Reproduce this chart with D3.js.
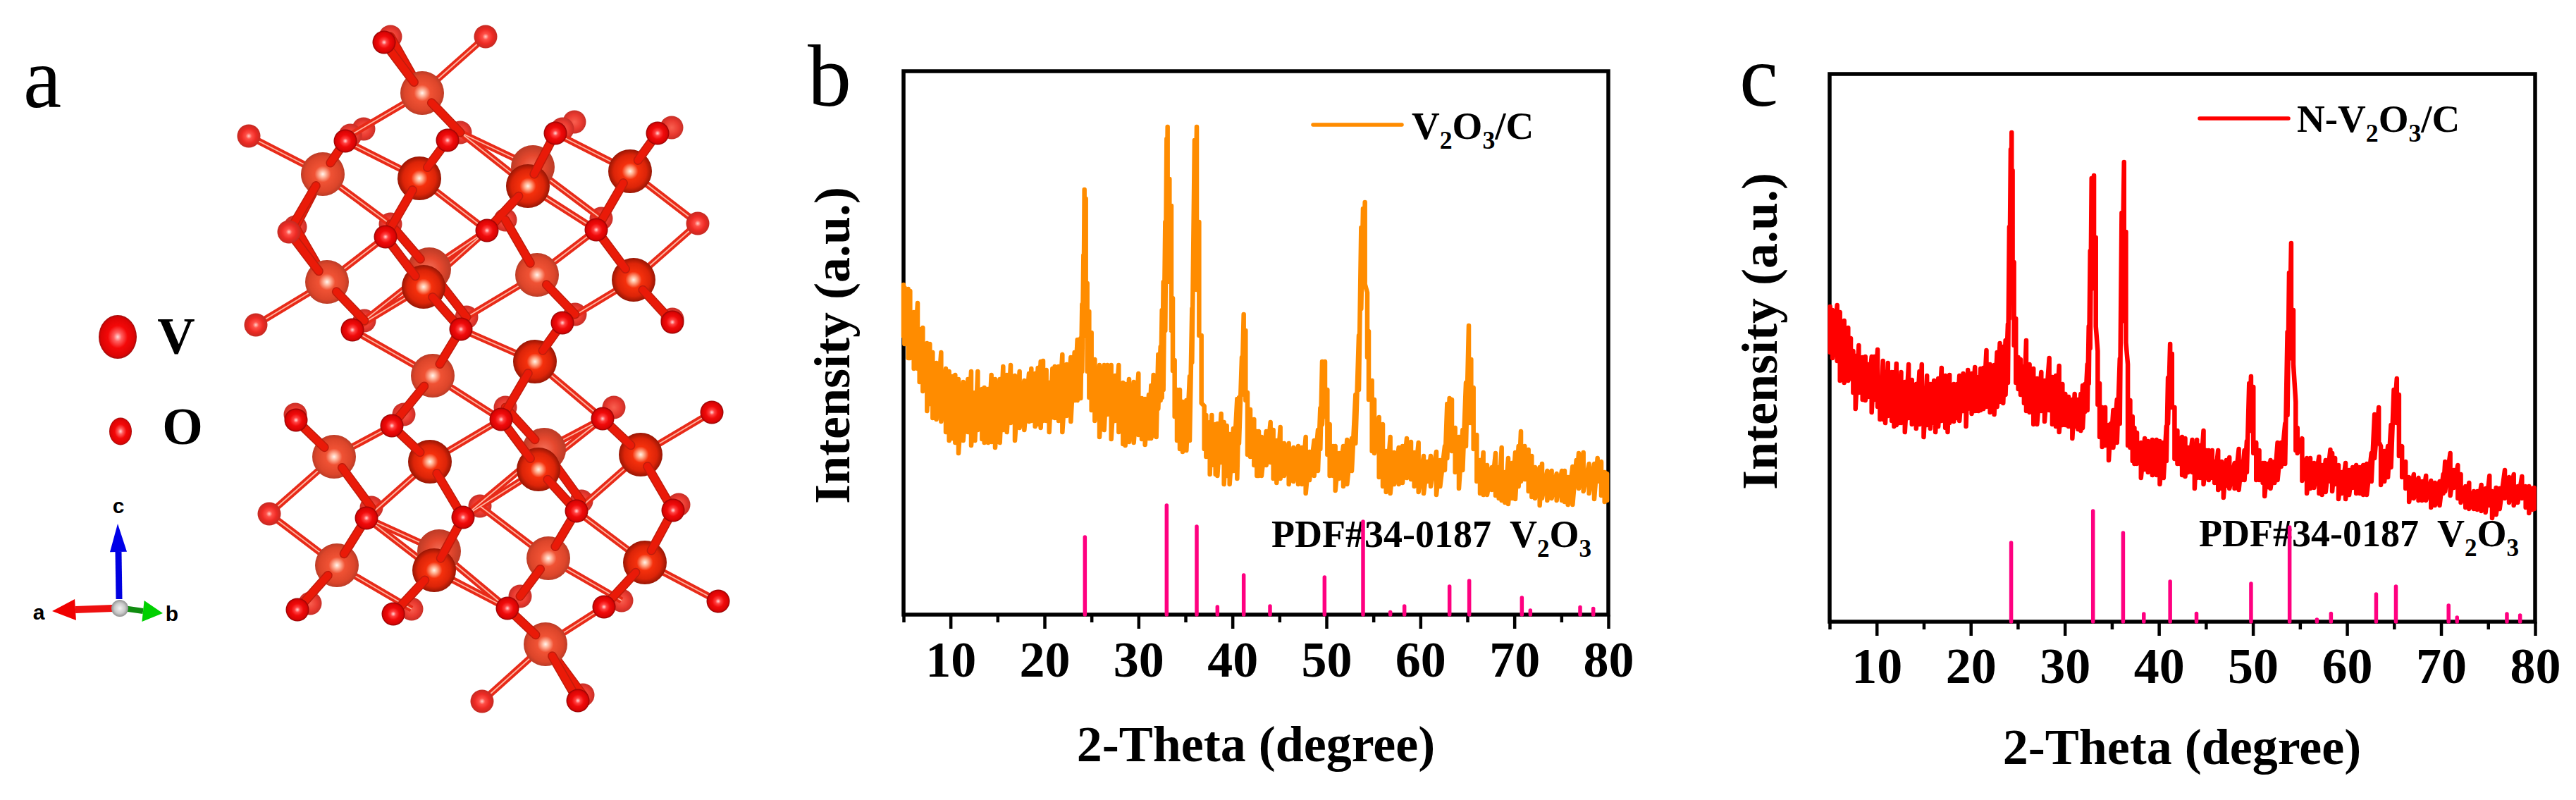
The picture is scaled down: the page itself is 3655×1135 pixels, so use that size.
<!DOCTYPE html>
<html>
<head>
<meta charset="utf-8">
<title>V2O3 structure and XRD</title>
<script src="https://d3js.org/d3.v7.min.js"></script>
<style>
body { margin: 0; background: #fff; }
svg { display: block; }
text { font-family: "Liberation Serif", "Times New Roman", serif; fill: #000; }
.bold { font-weight: bold; }
.triad { font-family: "Liberation Sans", Arial, sans-serif; font-weight: bold; font-size: 30px; text-anchor: middle; }
</style>
</head>
<body>
<div id="fig"></div>
<script>
// XRD reading rows: [2-theta, top of the noise band, bottom of the noise band]
var scanB = [
[5.0,468,395],[5.1,464,384],[5.5,462,364],[5.7,459,364],[6.1,429,349],[6.5,442,349],[6.7,405,330],[7.05,407,317],[7.5,385,289],[7.8,384,299],
[8.1,372,279],[8.5,357,277],[9.0,372,274],[9.5,349,259],[9.85,345,247],[10.2,338,250],[10.5,340,244],[10.85,334,229],[11.35,330,247],[11.85,334,259],
[12.2,345,240],[12.6,315,247],[12.9,345,262],[13.35,320,249],[13.6,322,244],[14.0,320,244],[14.35,340,245],[14.75,334,237],[15.25,334,244],[15.6,352,262],
[16.0,340,259],[16.4,354,272],[16.85,339,247],[17.35,345,265],[17.85,332,262],[18.35,342,274],[18.6,349,275],[19.0,342,267],[19.3,350,270],[19.6,359,265],
[19.85,360,275],[20.2,347,275],[20.5,329,259],[20.85,349,280],[21.1,352,279],[21.5,352,275],[21.9,369,259],[22.35,355,282],[22.8,365,274],[23.2,372,304],
[23.5,390,304],[23.85,392,307],[24.0,440,345],[24.15,510,400],[24.25,603,420],[24.4,590,395],[24.55,470,345],[24.75,430,308],[25.0,400,290],[25.35,362,275],
[25.85,354,252],[26.35,354,262],[26.7,354,284],[27.1,354,249],[27.5,339,275],[27.9,354,259],[28.35,329,242],[28.6,327,240],[29.0,334,245],[29.5,330,244],
[30.0,342,255],[30.35,307,249],[30.7,306,241],[31.1,312,250],[31.35,325,250],[31.6,340,254],[31.9,335,252],[32.1,369,292],[32.35,380,304],[32.5,432,308],
[32.65,472,319],[32.85,557,403],[33.0,675,534],[33.1,692,549],[33.3,618,472],[33.5,580,403],[33.65,449,346],[33.85,361,281],[34.1,319,247],[34.4,319,235],
[34.7,302,231],[35.1,304,233],[35.45,338,247],[35.7,434,358],[35.97,673,499],[36.2,692,461],[36.45,557,396],[36.7,396,300],[37.0,296,235],[37.2,283,224],
[37.6,273,199],[37.8,283,212],[38.2,270,199],[38.4,271,197],[38.8,285,216],[39.1,273,185],[39.4,268,197],[39.7,256,185],[40.1,264,204],[40.5,306,193],
[40.7,308,243],[41.0,365,312],[41.2,426,319],[41.4,403,304],[41.6,315,227],[41.9,291,224],[42.3,277,212],[42.6,260,197],[42.8,260,197],[43.1,252,197],
[43.6,260,212],[44.05,273,216],[44.35,262,193],[44.7,247,187],[45.1,266,193],[45.5,243,197],[46.0,243,185],[46.5,237,189],[47.0,239,185],[47.4,237,185],
[47.8,252,172],[48.2,231,191],[48.7,247,197],[49.1,262,204],[49.35,293,235],[49.55,359,270],[49.85,359,281],[50.1,319,227],[50.35,270,197],[50.7,239,197],
[50.95,239,176],[51.35,229,193],[51.8,239,182],[52.2,248,185],[52.7,250,204],[53.1,312,243],[53.45,396,319],[53.7,549,434],[53.9,576,465],[54.1,585,469],
[54.35,457,365],[54.5,402,305],[54.85,332,232],[55.1,305,229],[55.6,280,195],[56.0,270,182],[56.35,232,174],[56.8,252,172],[57.2,230,185],[57.7,237,185],
[58.1,239,187],[58.55,250,194],[59.0,245,192],[59.35,230,182],[59.8,244,174],[60.35,225,172],[60.75,217,189],[61.1,225,182],[61.7,231,170],[62.1,219,182],
[62.6,239,205],[62.85,299,222],[63.1,307,245],[63.35,305,232],[63.7,265,202],[64.1,252,179],[64.5,262,205],[64.85,329,239],[65.15,410,272],[65.4,362,272],
[65.65,322,235],[66.0,255,189],[66.35,219,172],[66.7,230,170],[67.1,212,170],[67.6,209,177],[68.0,229,169],[68.35,209,165],[68.65,237,162],[69.0,202,159],
[69.35,222,157],[69.75,215,165],[70.1,230,164],[70.45,239,182],[70.7,260,189],[71.1,239,192],[71.5,234,175],[71.85,225,167],[72.2,209,165],[72.7,209,155],
[72.95,214,165],[73.5,204,162],[73.97,204,165],[74.5,200,162],[75.05,204,162],[75.35,204,160],[75.7,195,156],[76.2,210,156],[76.6,219,182],[76.85,229,179],
[77.35,230,175],[77.95,214,172],[78.5,214,164],[78.85,222,189],[79.25,217,169],[79.6,202,160],[79.85,200,162]
];
var scanC = [
[5.05,447,382],[5.3,442,374],[5.8,449,370],[6.1,439,342],[6.55,427,339],[6.97,417,342],[7.25,402,345],[7.5,384,325],[7.75,377,302],[8.1,392,325],
[8.5,375,315],[8.8,376,314],[9.1,365,319],[9.47,376,297],[9.75,376,315],[10.1,386,305],[10.35,334,287],[10.67,370,287],[10.92,354,282],[11.2,367,292],
[11.6,354,285],[11.85,354,277],[12.1,366,279],[12.35,339,282],[12.6,354,282],[13.0,340,269],[13.4,365,289],[13.75,343,280],[14.2,337,274],[14.55,355,280],
[14.8,365,282],[15.0,329,262],[15.35,349,279],[15.7,337,274],[16.1,342,282],[16.25,337,269],[16.55,345,277],[16.9,360,285],[17.3,349,275],[17.55,339,269],
[17.75,350,282],[18.2,337,284],[18.55,337,289],[18.8,349,285],[19.2,352,299],[19.5,347,277],[19.7,357,302],[20.1,352,295],[20.45,361,299],[20.8,347,299],
[21.05,359,300],[21.35,360,302],[21.67,385,305],[22.05,365,297],[22.5,364,294],[22.8,382,305],[23.1,395,312],[23.45,390,310],[23.7,399,322],[23.95,422,339],
[24.1,560,430],[24.25,670,470],[24.35,694,500],[24.45,640,470],[24.6,510,392],[24.8,430,339],[25.05,375,330],[25.3,372,322],[25.67,362,310],[25.9,399,299],
[26.25,365,297],[26.67,359,280],[27.05,345,280],[27.5,354,299],[27.85,342,284],[28.35,374,300],[28.67,347,280],[29.05,349,277],[29.4,363,269],[29.75,337,279],
[30.05,323,279],[30.4,319,277],[30.8,315,260],[31.05,323,277],[31.4,315,273],[31.7,323,271],[31.9,335,275],[32.15,337,298],[32.4,365,300],[32.55,419,338],
[32.7,526,388],[32.85,629,472],[33.1,633,476],[33.3,545,419],[33.5,384,308],[33.7,338,262],[33.97,304,248],[34.3,304,250],[34.67,279,229],[34.9,281,247],
[35.15,300,247],[35.55,315,254],[35.85,373,281],[36.05,580,426],[36.3,652,465],[36.5,553,396],[36.7,365,250],[36.95,314,247],[37.2,291,228],[37.4,275,224],
[37.67,268,224],[38.1,254,204],[38.5,260,216],[38.85,256,212],[39.3,258,208],[39.75,258,208],[40.1,256,195],[40.5,254,204],[40.8,277,228],[40.97,346,281],
[41.2,394,304],[41.4,380,304],[41.67,304,231],[41.97,271,224],[42.2,260,224],[42.47,262,208],[42.8,260,206],[43.1,247,212],[43.55,258,212],[43.8,235,189],
[44.05,258,204],[44.4,250,204],[44.75,271,195],[45.05,243,204],[45.3,243,201],[45.67,243,204],[45.92,227,197],[46.3,243,187],[46.67,227,189],[46.87,224,176],
[47.17,229,193],[47.5,233,189],[48.05,225,189],[48.5,245,187],[48.8,227,201],[49.1,243,201],[49.35,256,212],[49.6,338,270],[49.8,348,281],[50.05,333,239],
[50.35,254,201],[50.67,243,201],[51.05,225,197],[51.25,225,178],[51.55,224,191],[51.87,229,189],[52.3,227,197],[52.62,254,201],[53.0,254,220],[53.42,281,224],
[53.67,411,293],[53.85,495,373],[54.07,537,400],[54.3,442,365],[54.55,312,243],[54.73,275,239],[55.23,260,200],[55.73,232,182],[56.1,232,189],[56.5,225,190],
[57.03,234,182],[57.35,222,180],[57.73,229,184],[58.23,244,199],[58.43,239,185],[58.73,232,195],[59.1,222,174],[59.43,212,182],[59.85,225,174],[60.23,215,180],
[60.6,219,190],[60.98,222,182],[61.35,219,182],[61.73,222,180],[62.1,224,180],[62.6,239,199],[62.93,294,232],[63.38,304,255],[63.6,249,194],[63.98,242,199],
[64.35,249,205],[64.68,279,219],[64.98,329,282],[65.3,345,282],[65.53,322,235],[65.85,249,205],[66.23,227,189],[66.6,205,170],[67.1,209,175],[67.6,204,172],
[67.98,199,172],[68.4,207,172],[68.93,200,162],[69.35,197,165],[69.85,199,165],[70.23,209,182],[70.43,227,185],[70.98,239,179],[71.35,215,190],[71.78,222,175],
[72.1,209,169],[72.6,192,162],[72.98,197,160],[73.48,185,160],[73.85,185,159],[74.28,194,157],[74.73,189,155],[75.15,207,165],[75.43,185,147],[75.85,190,152],
[76.23,189,160],[76.78,215,175],[77.23,205,169],[77.73,209,165],[78.15,192,169],[78.6,206,175],[79.0,192,162],[79.35,192,154],[79.73,189,159],[79.9,190,160]
];

// PDF#34-0187 reference lines
var pdfTheta = [24.3,33.0,36.2,38.4,41.2,44.0,49.8,53.9,56.8,58.3,63.1,65.2,70.8,71.7,77.0,78.4];
var pdfB = [110,155,125,11,56,12,53,132,3.5,12,40,48,24,6,10.6,8.5];
var pdfC = [112,157,126,11,57,11.6,54,134,3,11.6,39,50,23,6,11,9];

var majorTicks = [10,20,30,40,50,60,70,80];
var minorTicks = [5,15,25,35,45,55,65,75];

// projected atom positions of the structure, far atoms have a "b" or "m" id
var vAtoms = [
["V1",5.99,1.32,"far"],["V2",4.58,2.47,"far"],["V3",5.95,2.53,"near"],["V4",7.56,2.37,"back"],["V5",7.49,2.64,"near"],["V6",8.94,2.43,"near"],
["V7",4.64,4.00,"far"],["V8",6.01,4.07,"near"],["V9",6.09,3.82,"back"],["V10",7.62,3.90,"far"],["V11",8.99,3.97,"near"],["V12",6.14,5.33,"far"],
["V13",7.59,5.13,"near"],["V14",4.74,6.48,"far"],["V15",6.10,6.55,"near"],["V16",7.72,6.38,"back"],["V17",7.64,6.66,"near"],["V18",9.09,6.45,"near"],
["V19",4.78,8.02,"far"],["V20",6.23,7.82,"back"],["V21",6.16,8.09,"near"],["V22",7.78,7.92,"far"],["V23",9.15,7.98,"near"],["V24",7.74,9.14,"far"]
];
var oAtoms = [
["O1b",5.54,.52],["O1",5.45,.60],["O2",6.89,.52],["O3",3.53,1.93],["O4b",5.16,1.83],["O4m",4.97,1.92],["O4",4.90,2.00],["O5b",6.53,1.88],["O5",6.35,1.99],
["O6b",8.15,1.73],["O6m",7.98,1.83],["O6",7.88,1.89],["O7b",9.53,1.81],["O7",9.33,1.89],["O8b",4.19,3.22],["O8",4.10,3.29],["O9b",5.54,3.18],["O9",5.47,3.36],
["O10b",7.17,3.12],["O10",6.91,3.27],["O11b",8.53,3.10],["O11",8.46,3.26],["O12",9.90,3.17],["O13",3.63,4.61],["O14b",5.17,4.55],["O14",5.00,4.68],
["O15b",6.62,4.50],["O15",6.54,4.67],["O16b",8.16,4.46],["O16",7.98,4.58],["O17b",9.54,4.53],["O17",9.54,4.57],["O18b",4.19,5.88],["O18",4.20,5.96],
["O19b",5.73,5.88],["O19",5.56,6.04],["O20b",7.17,5.78],["O20",7.11,5.95],["O21b",8.71,5.78],["O21",8.55,5.94],["O22",10.10,5.85],["O23",3.82,7.29],
["O24b",5.27,7.20],["O24",5.20,7.35],["O25b",6.81,7.18],["O25",6.57,7.34],["O26b",8.25,7.11],["O26",8.18,7.25],["O27b",9.63,7.16],["O27",9.55,7.24],
["O28b",4.40,8.56],["O28",4.22,8.65],["O29b",5.84,8.64],["O29",5.58,8.71],["O30b",7.38,8.46],["O30",7.20,8.63],["O31b",8.82,8.52],["O31",8.57,8.61],
["O32",10.19,8.53],["O33",6.84,9.95],["O34b",8.27,9.86],["O34",8.20,9.94]
];
var thinBonds = [
["V1","O2"],["V1","O4m"],["V2","O3"],["V2","O9b"],["V3","O4"],["V3","O10"],["V4","O5b"],["V4","O11b"],["V5","O5b"],["V5","O11"],["V6","O6"],["V6","O12"],
["V7","O9"],["V7","O13"],["V8","O10"],["V8","O14"],["V9","O10"],["V9","O14"],["V10","O11"],["V10","O15b"],["V11","O12"],["V11","O16"],["V12","O14"],["V12","O20"],
["V13","O15"],["V13","O21"],["V14","O19"],["V14","O23"],["V15","O20"],["V15","O24"],["V16","O21"],["V16","O25"],["V17","O21"],["V17","O25"],["V18","O22"],["V18","O26"],
["V19","O23"],["V19","O29b"],["V20","O24"],["V20","O30"],["V21","O24"],["V21","O30"],["V22","O25b"],["V22","O31b"],["V23","O26"],["V23","O32"],["V24","O31"],["V24","O33"]
];
var thickBondsBack = [["V9","O9b"],["V9","O15b"],["V16","O20b"],["V16","O26b"],["V7","O8b"],["V2","O8b"],["V1","O1b"],["V24","O34b"]];
var thickBonds = [
["V1","O1"],["V1","O5b"],["V2","O4"],["V2","O8"],["V3","O5"],["V3","O9"],["V5","O6"],["V5","O10"],["V6","O7"],["V6","O11"],["V7","O8"],["V7","O14b"],
["V8","O9"],["V8","O15"],["V10","O10b"],["V10","O16b"],["V11","O11"],["V11","O17"],["V12","O15"],["V12","O19"],["V13","O16"],["V13","O20"],["V14","O18"],["V14","O24b"],
["V15","O19"],["V15","O25"],["V17","O20"],["V17","O26"],["V18","O21"],["V18","O27"],["V19","O24"],["V19","O28"],["V21","O25"],["V21","O29"],["V22","O26"],["V22","O30b"],
["V23","O27"],["V23","O31"],["V24","O30"],["V24","O34"]
];

var width = 3655, height = 1135;
var svg = d3.select("#fig").append("svg").attr("width", width).attr("height", height);
var defs = svg.append("defs");

function sphere(id, stops) {
	var g = defs.append("radialGradient").attr("id", id).attr("cx", "50%").attr("cy", "50%").attr("r", "52%");
	stops.forEach(function(s) {
		g.append("stop").attr("offset", s[0]).attr("stop-color", s[1]);
	});
}
sphere("vNear", [[0,"#fff4e8"],[.14,"#ffb090"],[.36,"#f5300c"],[.72,"#dc2408"],[1,"#8c1404"]]);
sphere("vFar", [[0,"#fff6ee"],[.14,"#ffb8a0"],[.36,"#f05234"],[.78,"#dc452a"],[1,"#b43a26"]]);
sphere("vBack", [[0,"#f4705a"],[.5,"#e6482e"],[1,"#b83a26"]]);
sphere("oNear", [[0,"#ffd8d8"],[.22,"#ff4040"],[.5,"#f00a0a"],[.82,"#d80404"],[1,"#7c0404"]]);
sphere("oFar", [[0,"#ffd0c8"],[.25,"#ff5048"],[.6,"#ee2a24"],[1,"#c02a22"]]);
sphere("oBack", [[0,"#f86050"],[.6,"#ea3a30"],[1,"#c42e26"]]);
sphere("keyV", [[0,"#ffd8d8"],[.2,"#ff6060"],[.5,"#f40808"],[.85,"#dc0404"],[1,"#901010"]]);
sphere("ball", [[0,"#f2f2f2"],[.6,"#c8c8c8"],[1,"#8c8c8c"]]);

// structure panel a
var sx = d3.scaleLinear().domain([0, 11.5]).range([0, 1150]);
var sy = d3.scaleLinear().domain([0, 11.35]).range([0, 1135]);
var vR = 31, oR = 16.5;
var atomById = {};
vAtoms.forEach(function(a) { atomById[a[0]] = a; });
oAtoms.forEach(function(a) { atomById[a[0]] = a; });

var crystal = svg.append("g");

function isBack(a) { return /[bm]$/.test(a[0]); }
var oFarIds = ["O2","O3","O8","O12","O13","O23","O33"];

function drawO(list) {
	crystal.selectAll(null).data(list).enter().append("circle")
		.attr("cx", function(d) { return sx(d[1]); })
		.attr("cy", function(d) { return sy(d[2]); })
		.attr("r", oR)
		.attr("fill", function(d) {
			if (isBack(d)) return "url(#oBack)";
			return oFarIds.indexOf(d[0]) >= 0 ? "url(#oFar)" : "url(#oNear)";
		});
}
function drawV(list) {
	crystal.selectAll(null).data(list).enter().append("circle")
		.attr("cx", function(d) { return sx(d[1]); })
		.attr("cy", function(d) { return sy(d[2]); })
		.attr("r", vR)
		.attr("fill", function(d) { return d[3] == "near" ? "url(#vNear)" : d[3] == "far" ? "url(#vFar)" : "url(#vBack)"; });
}
function drawThin(list) {
	[[9.5, "#e82a18"], [1.8, "#ffb4a0"]].forEach(function(st) {
		crystal.selectAll(null).data(list).enter().append("line")
			.attr("x1", function(d) { return sx(atomById[d[0]][1]); })
			.attr("y1", function(d) { return sy(atomById[d[0]][2]); })
			.attr("x2", function(d) { return sx(atomById[d[1]][1]); })
			.attr("y2", function(d) { return sy(atomById[d[1]][2]); })
			.attr("stroke", st[1]).attr("stroke-width", st[0]);
	});
}
function drawThick(list) {
	// thick bond starts a little inside the V sphere, so its end shows on the surface
	function start(d) {
		var a = atomById[d[0]], b = atomById[d[1]];
		var dx = sx(b[1]) - sx(a[1]), dy = sy(b[2]) - sy(a[2]), l = Math.sqrt(dx * dx + dy * dy);
		return [sx(a[1]) + dx / l * vR * 0.62, sy(a[2]) + dy / l * vR * 0.62];
	}
	[[13, "#c01c0c"], [10, "#ea1a08"]].forEach(function(st) {
		crystal.selectAll(null).data(list).enter().append("line")
			.attr("x1", function(d) { return start(d)[0]; })
			.attr("y1", function(d) { return start(d)[1]; })
			.attr("x2", function(d) { return sx(atomById[d[1]][1]); })
			.attr("y2", function(d) { return sy(atomById[d[1]][2]); })
			.attr("stroke", st[1]).attr("stroke-width", st[0]).attr("stroke-linecap", "round");
	});
}

drawO(oAtoms.filter(isBack));
drawThin(thinBonds);
drawV(vAtoms.filter(function(d) { return d[3] == "back"; }));
drawThick(thickBondsBack);
drawV(vAtoms.filter(function(d) { return d[3] != "back"; }));
drawThick(thickBonds);
drawO(oAtoms.filter(function(d) { return !isBack(d); }));

svg.append("text").attr("x", 33).attr("y", 152).style("font-size", "122px").text("a");

// atom key
svg.append("ellipse").attr("cx", 167).attr("cy", 478).attr("rx", 27).attr("ry", 31).attr("fill", "url(#keyV)");
svg.append("ellipse").attr("cx", 171).attr("cy", 612).attr("rx", 16).attr("ry", 19.5).attr("fill", "url(#keyV)");
svg.append("text").attr("class", "bold").attr("x", 250).attr("y", 502).attr("text-anchor", "middle").style("font-size", "74px").text("V");
svg.append("text").attr("class", "bold").attr("x", 259).attr("y", 630).attr("text-anchor", "middle").style("font-size", "74px").text("O");

// axis triad
function arrow(x1, y1, x2, y2, tipx, tipy, half, shaftCol, headCol, w) {
	svg.append("line").attr("x1", x1).attr("y1", y1).attr("x2", x2).attr("y2", y2).attr("stroke", shaftCol).attr("stroke-width", w);
	var dx = tipx - x2, dy = tipy - y2, l = Math.sqrt(dx * dx + dy * dy), nx = -dy / l * half, ny = dx / l * half;
	svg.append("path").attr("d", "M" + (x2 + nx) + "," + (y2 + ny) + "L" + tipx + "," + tipy + "L" + (x2 - nx) + "," + (y2 - ny) + "Z").attr("fill", headCol);
}
arrow(169, 850, 168, 783, 167, 743, 12, "#0000e0", "#0000e8", 9);
arrow(160, 863, 107, 865, 74, 867, 15, "#ee1010", "#f00000", 10);
arrow(175, 863, 203, 867, 231, 870, 15, "#108c10", "#00d000", 8);
svg.append("circle").attr("cx", 170).attr("cy", 863).attr("r", 12).attr("fill", "url(#ball)");
svg.append("text").attr("class", "triad").attr("x", 168).attr("y", 728).text("c");
svg.append("text").attr("class", "triad").attr("x", 55).attr("y", 879).text("a");
svg.append("text").attr("class", "triad").attr("x", 244).attr("y", 881).text("b");

// one XRD panel
function plotPattern(p) {
	var g = svg.append("g");
	var x = d3.scaleLinear().domain([5, 80]).range([p.left, p.right]);
	var y = d3.scaleLinear().domain([0, p.bottom - p.top]).range([p.bottom, p.top]);

	g.append("rect").attr("x", p.left).attr("y", p.top).attr("width", p.right - p.left).attr("height", p.bottom - p.top)
		.attr("fill", "none").attr("stroke", "#000").attr("stroke-width", 5.5);

	var major = g.append("g").attr("transform", "translate(0," + p.bottom + ")")
		.call(d3.axisBottom(x).tickValues(majorTicks).tickSize(20).tickFormat(d3.format("d")));
	major.select(".domain").remove();
	major.selectAll("line").attr("stroke", "#000").attr("stroke-width", 4.5);
	major.selectAll("text").attr("class", "bold").attr("y", p.tickBase).attr("dy", 0).style("font-size", "72px");

	var minor = g.append("g").attr("transform", "translate(0," + p.bottom + ")")
		.call(d3.axisBottom(x).tickValues(minorTicks).tickSize(11).tickFormat(""));
	minor.select(".domain").remove();
	minor.selectAll("line").attr("stroke", "#000").attr("stroke-width", 4.5);

	g.append("text").attr("class", "bold").attr("x", p.xLabelX).attr("y", p.xLabelY).attr("text-anchor", "middle")
		.style("font-size", "72px").text("2-Theta (degree)");
	g.append("text").attr("class", "bold").attr("transform", "translate(" + p.yLabelX + "," + p.yLabelY + ") rotate(-90)")
		.attr("text-anchor", "middle").style("font-size", "72px").text("Intensity (a.u.)");

	var pts = [];
	p.scan.forEach(function(r) {
		pts.push([r[0], r[1]]);
		pts.push([r[0], r[2]]);
	});
	var line = d3.line().x(function(d) { return x(d[0]); }).y(function(d) { return y(d[1]); });
	g.append("path").datum(pts).attr("d", line).attr("fill", "none").attr("stroke", p.color)
		.attr("stroke-width", 6.5).attr("stroke-linejoin", "round").attr("stroke-linecap", "round");

	// legend
	g.append("line").attr("x1", p.legX1).attr("x2", p.legX2).attr("y1", p.legY).attr("y2", p.legY)
		.attr("stroke", p.color).attr("stroke-width", 5.5).attr("stroke-linecap", "round");
	var lt = g.append("text").attr("class", "bold").attr("x", p.legTextX).attr("y", p.legTextY).style("font-size", "55px");
	formula(lt, p.legend);

	var pt = g.append("text").attr("class", "bold").attr("x", p.pdfX).attr("y", p.pdfY).attr("xml:space", "preserve")
		.style("white-space", "pre").style("font-size", "54px");
	formula(pt, ["PDF#34-0187  V", "2", "O", "3"]);

	g.selectAll(null).data(pdfTheta).enter().append("line")
		.attr("x1", function(d) { return x(d); })
		.attr("x2", function(d) { return x(d); })
		.attr("y1", p.bottom)
		.attr("y2", function(d, i) { return y(p.pdf[i]); })
		.attr("stroke", "#ff0080").attr("stroke-width", 5.5).attr("stroke-linecap", "round");
}

// parts at odd positions in the list are subscripts
function formula(sel, parts) {
	parts.forEach(function(s, i) {
		var t = sel.append("tspan").text(s);
		if (i % 2 == 1) t.style("font-size", "0.65em").attr("dy", 14);
		else if (i > 0) t.attr("dy", -14);
	});
}

plotPattern({
	scan: scanB, pdf: pdfB, color: "#ff8c00",
	left: 1282, right: 2282, top: 101, bottom: 872, tickBase: 88,
	xLabelX: 1782, xLabelY: 1080, yLabelX: 1205, yLabelY: 490,
	legX1: 1863, legX2: 1989, legY: 177, legTextX: 2003, legTextY: 197,
	legend: ["V", "2", "O", "3", "/C"], pdfX: 1804, pdfY: 776
});
plotPattern({
	scan: scanC, pdf: pdfC, color: "#ff0000",
	left: 2596, right: 3597, top: 105, bottom: 882, tickBase: 87,
	xLabelX: 3096, xLabelY: 1084, yLabelX: 2521, yLabelY: 470,
	legX1: 3121, legX2: 3247, legY: 168, legTextX: 3259, legTextY: 187,
	legend: ["N-V", "2", "O", "3", "/C"], pdfX: 3120, pdfY: 775
});

svg.append("text").attr("x", 1146).attr("y", 150).style("font-size", "124px").text("b");
svg.append("text").attr("x", 2468).attr("y", 150).style("font-size", "124px").text("c");
</script>
</body>
</html>
